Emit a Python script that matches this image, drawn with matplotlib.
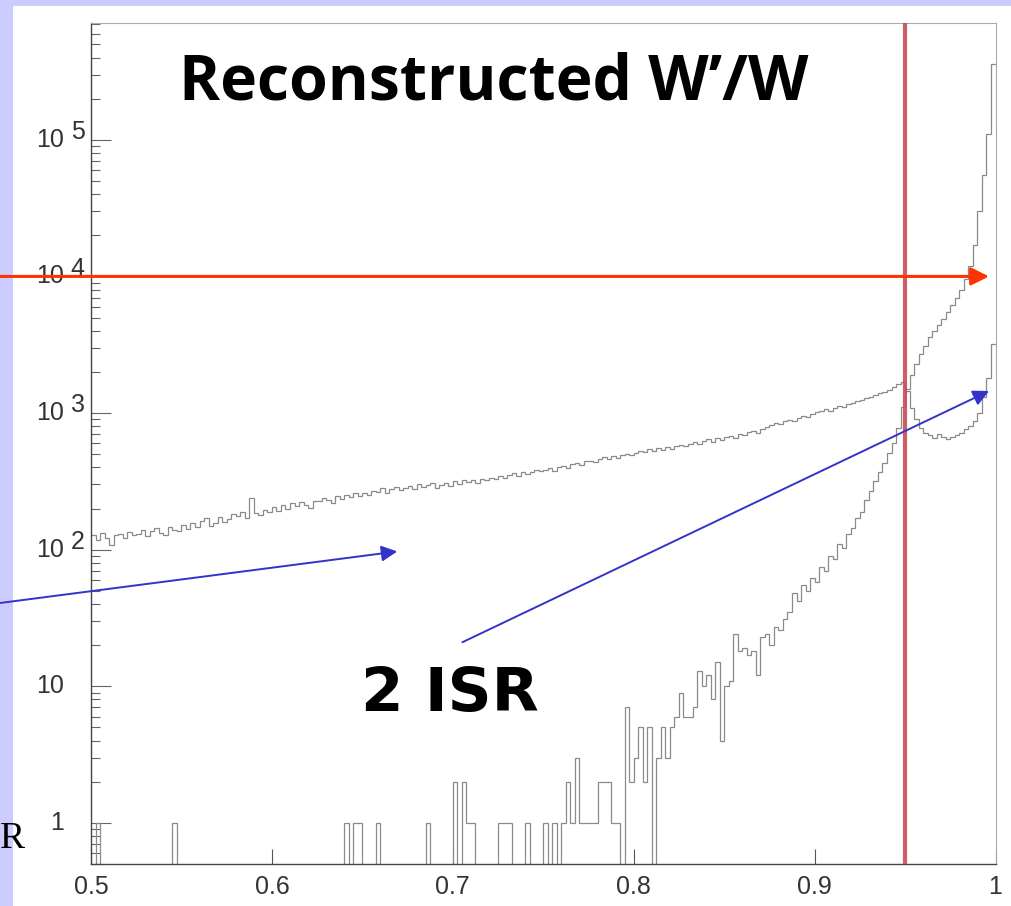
import numpy as np
import matplotlib.pyplot as plt
import matplotlib.transforms as mtransforms
from matplotlib.patches import Rectangle
from matplotlib.ticker import LogLocator, NullFormatter

# histogram binning: 200 bins of 0.0025 between 0.5 and 1
edges = np.linspace(0.5, 1.0, 201)

# broad distribution (rises slowly, dip after 0.95, small rise at 1)
counts_broad = [
    128, 118, 132, 121, 108, 127, 130, 122, 135, 129, 131, 140, 126, 138, 145, 133, 128, 147, 139, 136,
    152, 141, 158, 147, 163, 170, 149, 158, 172, 160, 168, 182, 176, 190, 171, 238, 185, 178, 196, 188,
    205, 193, 214, 198, 220, 208, 225, 212, 203, 228, 226, 240, 232, 219, 248, 236, 252, 241, 258, 245,
    262, 251, 270, 265, 281, 258, 276, 289, 272, 284, 293, 280, 302, 288, 296, 310, 285, 299, 306, 292,
    318, 300, 322, 312, 326, 308, 331, 322, 337, 329, 345, 333, 352, 361, 347, 370, 356, 368, 381, 374,
    386, 398, 377, 405, 412, 399, 421, 430, 415, 442, 448, 436, 462, 475, 458, 484, 470, 496, 505, 489,
    512, 530, 518, 541, 527, 552, 538, 566, 549, 573, 585, 570, 598, 612, 590, 625, 641, 618, 652, 637,
    668, 680, 655, 702, 690, 725, 742, 718, 768, 790, 815, 842, 830, 868, 890, 875, 920, 948, 935, 985,
    1010, 1040, 1065, 1030, 1095, 1120, 1100, 1160, 1190, 1215, 1240, 1280, 1310, 1350, 1390, 1420, 1480, 1550, 1620, 1700,
    1450, 1080, 900, 780, 720, 690, 660, 700, 665, 650, 670, 690, 720, 760, 800, 880, 1000, 1300, 1800, 3200,
]

# peaked distribution (sparse at low values, huge peak at 1)
counts_peak = [
    0, 1, 0, 0, 0, 0, 0, 0, 0, 0, 0, 0, 0, 0, 0, 0, 0, 0, 1, 0,
    0, 0, 0, 0, 0, 0, 0, 0, 0, 0, 0, 0, 0, 0, 0, 0, 0, 0, 0, 0,
    0, 0, 0, 0, 0, 0, 0, 0, 0, 0, 0, 0, 0, 0, 0, 0, 1, 0, 1, 1,
    0, 0, 0, 1, 0, 0, 0, 0, 0, 0, 0, 0, 0, 0, 1, 0, 0, 0, 0, 0,
    2, 0, 2, 1, 1, 0, 0, 0, 0, 0, 1, 1, 1, 0, 0, 0, 1, 0, 0, 0,
    1, 0, 1, 0, 1, 2, 1, 3, 1, 1, 1, 1, 2, 2, 2, 1, 1, 0, 7, 2,
    3, 5, 2, 5, 0, 3, 5, 3, 5, 6, 9, 6, 6, 7, 13, 10, 12, 8, 15, 4,
    10, 11, 24, 18, 19, 17, 18, 12, 23, 24, 20, 27, 26, 31, 35, 48, 42, 55, 50, 62,
    58, 75, 70, 90, 85, 110, 102, 130, 145, 170, 190, 230, 270, 320, 370, 430, 510, 600, 780, 1100,
    1500, 1900, 2300, 2700, 3100, 3600, 4000, 4400, 4900, 5500, 6200, 7000, 8000, 9500, 12000, 17000, 30000, 55000, 110000, 360000,
]

cut_value = 0.95
xtick_vals = [0.5, 0.6, 0.7, 0.8, 0.9, 1.0]
xtick_text = ['0.5', '0.6', '0.7', '0.8', '0.9', '1']
ytick_exps = [0, 1, 2, 3, 4, 5]

fig = plt.figure(figsize=(10.11, 9.06), dpi=100, facecolor='#ccccff')
panel = Rectangle((13 / 1011, 0), 1, 900 / 906, transform=fig.transFigure,
                  facecolor='white', edgecolor='none', zorder=-5)
fig.add_artist(panel)

ax = fig.add_axes([0.0900, 0.04636, 0.8947, 0.9286])
ax.set_yscale('log')

broad = np.array(counts_broad, dtype=float)
peak = np.array(counts_peak, dtype=float)
peak = np.where(peak > 0, peak, 1e-3)   # empty bins drop below the axis

ax.stairs(broad, edges, baseline=None, color='#8a8a8a', lw=0.9, zorder=2)
ax.stairs(peak, edges, baseline=None, color='#8a8a8a', lw=0.9, zorder=2)

ax.axvline(cut_value, color='#c84c58', lw=3, alpha=0.9, zorder=3)

ax.set_xlim(0.5, 1.0)
ax.set_ylim(0.5, 7.2e5)

ax.set_xticks(xtick_vals)
ax.set_xticklabels(xtick_text, family='Liberation Sans')
ax.tick_params(axis='x', which='major', direction='in', length=11, width=0.8,
               color='#555555', pad=8, labelsize=18, labelcolor='#333333')
ax.xaxis.set_minor_locator(plt.NullLocator())

ax.yaxis.set_major_locator(LogLocator(base=10, numticks=20))
ax.yaxis.set_minor_locator(LogLocator(base=10, subs=np.arange(2, 10), numticks=20))
ax.yaxis.set_minor_formatter(NullFormatter())
ax.tick_params(axis='y', which='major', direction='in', length=14.5, width=0.8,
               color='#666666', labelleft=False)
ax.tick_params(axis='y', which='minor', direction='in', length=6.5, width=0.8,
               color='#666666')

for e in ytick_exps:
    v = 10.0 ** e
    base = '1' if e == 0 else '10'
    ax.annotate(base, xy=(0, v), xycoords=('axes fraction', 'data'),
                xytext=(-19.5, 0), textcoords='offset points', ha='right', va='center',
                fontsize=18, family='Liberation Sans', color='#333333')
    if e >= 2:
        ax.annotate(str(e), xy=(0, v), xycoords=('axes fraction', 'data'),
                    xytext=(-14.5, 5.5), textcoords='offset points', ha='left', va='center',
                    fontsize=18, family='Liberation Sans', color='#333333')

for side in ['left', 'bottom']:
    ax.spines[side].set_color('#444444')
    ax.spines[side].set_linewidth(1.0)
for side in ['top', 'right']:
    ax.spines[side].set_color('#aaaaaa')
    ax.spines[side].set_linewidth(0.8)

# arrows
fig_y = mtransforms.blended_transform_factory(fig.transFigure, ax.transData)
ax.annotate('', xy=(0.9964, 1e4), xycoords='data', xytext=(0, 1e4), textcoords=fig_y,
            arrowprops=dict(arrowstyle='-|>', color='#ff3300', lw=2.2, mutation_scale=27,
                            shrinkA=0, shrinkB=0), zorder=5)
ax.annotate('', xy=(0.6693, 97), xycoords='data', xytext=(0, 303), textcoords='figure pixels',
            arrowprops=dict(arrowstyle='-|>', color='#3333cc', lw=1.4, mutation_scale=24,
                            shrinkA=0, shrinkB=0), zorder=5)
ax.annotate('', xy=(0.9964, 1450), xycoords='data', xytext=(0.7053, 21), textcoords='data',
            arrowprops=dict(arrowstyle='-|>', color='#3333cc', lw=1.4, mutation_scale=24,
                            shrinkA=0, shrinkB=0), zorder=5)

fig.text(494 / 1011, 1 - 100 / 906, 'Reconstructed W\u2019/W', ha='center', va='baseline',
         fontsize=45, fontweight='bold', family='Open Sans', color='black')
fig.text(450 / 1011, 1 - 711 / 906, '2 ISR', ha='center', va='baseline',
         fontsize=44, fontweight='bold', family='DejaVu Sans', color='black')
fig.text(0, 1 - 848 / 906, 'R', ha='left', va='baseline',
         fontsize=27, family='Liberation Serif', color='black')

fig.savefig('out.png', dpi=100, facecolor=fig.get_facecolor())
